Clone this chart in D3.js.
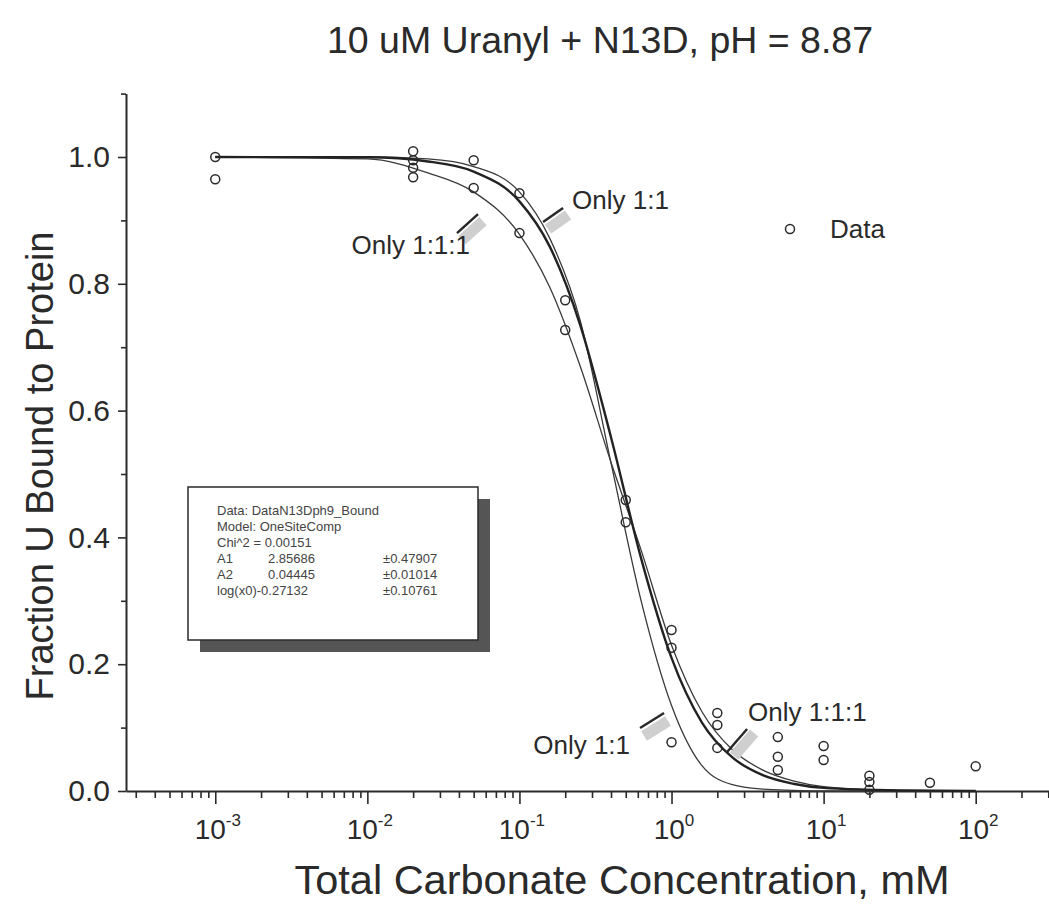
<!DOCTYPE html>
<html>
<head>
<meta charset="utf-8">
<script src="https://cdn.jsdelivr.net/npm/d3@7"></script>
<style>
  html, body { margin: 0; padding: 0; background: #fff; }
  svg { display: block; font-family: "Liberation Sans", Arial, sans-serif; }
</style>
</head>
<body>
<svg id="chart" width="1049" height="913"></svg>
<script>
// ---------- data ----------
const titleText = "10 uM Uranyl + N13D, pH = 8.87";
const xLabelText = "Total Carbonate Concentration, mM";
const yLabelText = "Fraction U Bound to Protein";

// measured points (mM, fraction)
const dataConc = [0.001, 0.001, 0.02, 0.02, 0.02, 0.02, 0.05, 0.05, 0.1, 0.1, 0.2, 0.2,
                  0.5, 0.5, 1, 1, 1, 2, 2, 2, 5, 5, 5, 10, 10, 20, 20, 20, 50, 100];
const dataFrac = [1.0, 0.965, 1.009, 0.995, 0.983, 0.968, 0.995, 0.951, 0.943, 0.88, 0.774, 0.727,
                  0.459, 0.424, 0.254, 0.226, 0.077, 0.123, 0.104, 0.068, 0.085, 0.054, 0.033, 0.071, 0.049,
                  0.024, 0.014, 0.002, 0.013, 0.039];

// curves (concentration in mM, fraction)
const curveConc = [0.001, 0.01, 0.025, 0.05, 0.1, 0.158, 0.251, 0.398, 0.631, 1, 1.585, 2.512, 3.981, 6.31, 10, 31.6, 100];
const fitFrac     = [1.0, 0.9995, 0.993, 0.977, 0.93, 0.859, 0.735, 0.56, 0.367, 0.21, 0.108, 0.053, 0.025, 0.0115, 0.005, 0.001, 0.0];
const only111Frac = [1.0, 0.997, 0.975, 0.945, 0.878, 0.795, 0.67, 0.52, 0.38, 0.23, 0.125, 0.065, 0.033, 0.016, 0.007, 0.001, 0.0];
const only11Frac  = [1.0, 1.0, 0.997, 0.985, 0.945, 0.872, 0.742, 0.52, 0.30, 0.135, 0.04, 0.01, 0.003, 0.001, 0.0, 0.0, 0.0];

// tick values
const xMajorTicks = [0.001, 0.01, 0.1, 1, 10, 100];
const xTickExponents = ["-3", "-2", "-1", "0", "1", "2"];
const yMajorTicks = [0, 0.2, 0.4, 0.6, 0.8, 1.0];
const yMinorTicks = [0.1, 0.3, 0.5, 0.7, 0.9, 1.1];

// fit report box
const reportLines = [
  ["Data: DataN13Dph9_Bound", "", ""],
  ["Model: OneSiteComp", "", ""],
  ["Chi^2 = 0.00151", "", ""],
  ["A1", "2.85686", "\u00b10.47907"],
  ["A2", "0.04445", "\u00b10.01014"],
  ["log(x0)-0.27132", "", "\u00b10.10761"]
];

// ---------- layout ----------
const svg = d3.select("#chart");
const ink = "#2a2a2a";
const left = 126, bottom = 791;

const x = d3.scaleLog()
  .domain([Math.pow(10, -3.587), Math.pow(10, 2.482)])
  .range([left, 1049]);
const y = d3.scaleLinear()
  .domain([0, 1.1])
  .range([bottom, bottom - 1.1 * 634]);

// title
svg.append("text")
  .attr("x", 600).attr("y", 53)
  .attr("text-anchor", "middle")
  .attr("font-size", 37.5).attr("fill", ink)
  .text(titleText);

// ---------- axes ----------
const xMinor = [];
for (let e = -4; e <= 2; e++) {
  for (let m = 2; m <= 9; m++) {
    const v = m * Math.pow(10, e);
    if (v >= x.domain()[0] && v <= x.domain()[1]) xMinor.push(v);
  }
}

const gxMinor = svg.append("g").attr("transform", `translate(0,${bottom})`)
  .call(d3.axisBottom(x).tickValues(xMinor).tickSize(7).tickFormat(""));
const gx = svg.append("g").attr("transform", `translate(0,${bottom})`)
  .call(d3.axisBottom(x).tickValues(xMajorTicks).tickSize(13).tickSizeOuter(0).tickFormat(""));
gx.selectAll(".tick").append("text")
  .attr("y", 48).attr("x", 2)
  .attr("text-anchor", "middle")
  .attr("fill", ink).attr("font-size", 28)
  .each(function(d, i) {
    const t = d3.select(this);
    t.append("tspan").text("10");
    t.append("tspan").attr("dy", -13).attr("font-size", 17).text(xTickExponents[i]);
  });

const gyMinor = svg.append("g").attr("transform", `translate(${left},0)`)
  .call(d3.axisLeft(y).tickValues(yMinorTicks).tickSize(5).tickFormat(""));
const gy = svg.append("g").attr("transform", `translate(${left},0)`)
  .call(d3.axisLeft(y).tickValues(yMajorTicks).tickSize(8).tickSizeOuter(0).tickFormat(d3.format(".1f")));
gy.selectAll(".tick text").attr("font-size", 30).attr("fill", ink).attr("x", -16);

[gx, gy, gxMinor, gyMinor].forEach(g => {
  g.selectAll("path.domain").attr("stroke", ink).attr("stroke-width", 2);
  g.selectAll(".tick line").attr("stroke", ink).attr("stroke-width", 1.6);
  g.attr("font-family", null);
});
gxMinor.select("path.domain").remove();
gyMinor.select("path.domain").remove();

// axis labels
svg.append("text")
  .attr("x", 622).attr("y", 894)
  .attr("text-anchor", "middle")
  .attr("font-size", 41.5).attr("fill", ink)
  .text(xLabelText);
svg.append("text")
  .attr("transform", `translate(53,466) rotate(-90)`)
  .attr("text-anchor", "middle")
  .attr("font-size", 38).attr("fill", ink)
  .text(yLabelText);

// ---------- curves ----------
const line = d3.line()
  .x(d => x(d[0]))
  .y(d => y(d[1]))
  .curve(d3.curveMonotoneX);

const curves = [
  { vals: only111Frac, w: 1.3, c: "#3a3a3a" },
  { vals: only11Frac, w: 1.3, c: "#3a3a3a" },
  { vals: fitFrac, w: 2.4, c: "#222" }
];
curves.forEach(cv => {
  svg.append("path")
    .datum(curveConc.map((c, i) => [c, cv.vals[i]]))
    .attr("d", line)
    .attr("fill", "none")
    .attr("stroke", cv.c)
    .attr("stroke-width", cv.w);
});

// ---------- data points ----------
svg.append("g").selectAll("circle")
  .data(dataConc.map((c, i) => [c, dataFrac[i]]))
  .join("circle")
  .attr("cx", d => x(d[0]))
  .attr("cy", d => y(d[1]))
  .attr("r", 4.5)
  .attr("fill", "none")
  .attr("stroke", ink)
  .attr("stroke-width", 1.5);

// ---------- annotations ----------
// tip in data units, shaft vector and text offset in px
const annotations = [
  { text: "Only 1:1:1", conc: 0.0534, frac: 0.91, shaft: [-21, 19], tx: -8, ty: 40, anchor: "end", band: [5, 7] },
  { text: "Only 1:1", conc: 0.143, frac: 0.8975, shaft: [20, -14], tx: 29, ty: -13, anchor: "start", band: [5, 7] },
  { text: "Only 1:1", conc: 0.893, frac: 0.123, shaft: [-24, 15], tx: -34, ty: 41, anchor: "end", band: [4, 8] },
  { text: "Only 1:1:1", conc: 2.32, frac: 0.0615, shaft: [20, -23], tx: 21, ty: -31, anchor: "start", band: [7, 4] }
];
annotations.forEach(a => {
  const px = x(a.conc), py = y(a.frac);
  svg.append("line")
    .attr("x1", px + a.band[0]).attr("y1", py + a.band[1])
    .attr("x2", px + a.shaft[0] + a.band[0]).attr("y2", py + a.shaft[1] + a.band[1])
    .attr("stroke", "#cfcfcf").attr("stroke-width", 11);
  svg.append("line")
    .attr("x1", px).attr("y1", py)
    .attr("x2", px + a.shaft[0]).attr("y2", py + a.shaft[1])
    .attr("stroke", ink).attr("stroke-width", 2.5);
  svg.append("text")
    .attr("x", px + a.tx).attr("y", py + a.ty)
    .attr("text-anchor", a.anchor)
    .attr("font-size", 26).attr("fill", ink)
    .text(a.text);
});

// legend "Data"
const legX = 790, legY = 229;
svg.append("circle").attr("cx", legX).attr("cy", legY).attr("r", 4.5)
  .attr("fill", "none").attr("stroke", ink).attr("stroke-width", 1.5);
svg.append("text").attr("x", legX + 40).attr("y", legY + 9)
  .attr("font-size", 26).attr("fill", ink).text("Data");

// ---------- fit report box ----------
const bx = 188, by = 487, bw = 290, bh = 153, sh = 12;
svg.append("rect").attr("x", bx + sh).attr("y", by + sh).attr("width", bw).attr("height", bh)
  .attr("fill", "#555");
svg.append("rect").attr("x", bx).attr("y", by).attr("width", bw).attr("height", bh)
  .attr("fill", "#fff").attr("stroke", ink).attr("stroke-width", 1.5);
const colX = [bx + 29, bx + 80, bx + 195];
reportLines.forEach((row, i) => {
  row.forEach((s, j) => {
    if (!s) return;
    svg.append("text")
      .attr("x", colX[j]).attr("y", by + 28 + i * 16)
      .attr("font-size", 13).attr("fill", "#444")
      .text(s);
  });
});
</script>
</body>
</html>
